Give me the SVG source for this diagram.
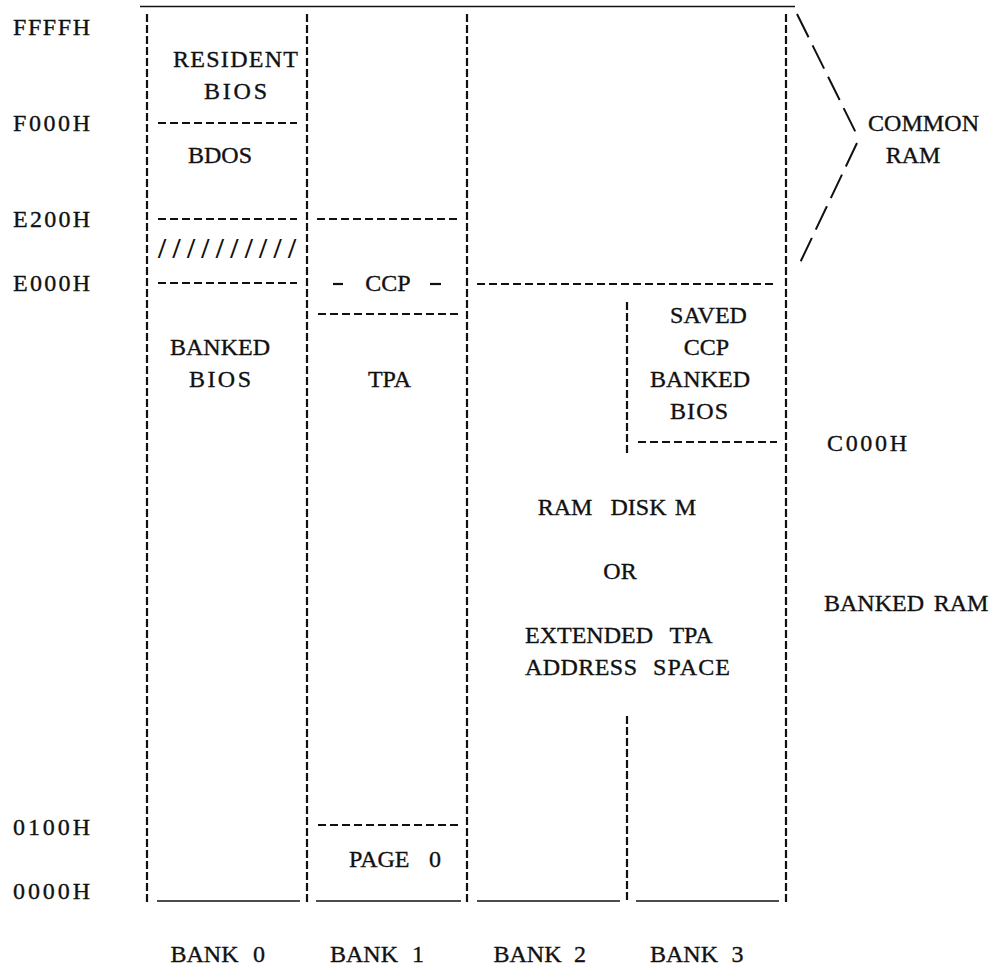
<svg xmlns="http://www.w3.org/2000/svg" width="995" height="967" viewBox="0 0 995 967">
<style>
.t{font-family:"Liberation Serif","Times New Roman",serif;font-size:24px;fill:#111;stroke:#111;stroke-width:0.35}
.m{text-anchor:middle}
.sl{font-family:"Liberation Serif","Times New Roman",serif;font-size:29px;font-weight:bold;fill:#111}
.v{stroke:#111;stroke-width:2.2;stroke-dasharray:8 3;fill:none}
.h{stroke:#111;stroke-width:2.2;stroke-dasharray:8 4;fill:none}
.s{stroke:#111;stroke-width:1.7;fill:none}
.d{stroke:#111;stroke-width:2;stroke-dasharray:26 9;fill:none}
</style>
<rect width="995" height="967" fill="#fff"/>
<g id="addresses">
<text class="t" x="13" y="35" textLength="77" lengthAdjust="spacing">FFFFH</text>
<text class="t" x="13" y="131" textLength="77" lengthAdjust="spacing">F000H</text>
<text class="t" x="13" y="227" textLength="77" lengthAdjust="spacing">E200H</text>
<text class="t" x="13" y="291" textLength="77" lengthAdjust="spacing">E000H</text>
<text class="t" x="13" y="835" textLength="77" lengthAdjust="spacing">0100H</text>
<text class="t" x="13" y="899" textLength="77" lengthAdjust="spacing">0000H</text>
<text class="t" x="827" y="451" textLength="80" lengthAdjust="spacing">C000H</text>
</g>
<g id="frame">
<line class="s" x1="140" y1="6.5" x2="795" y2="6.5"/>
<line class="v" x1="147" y1="14" x2="147" y2="903"/>
<line class="v" x1="307" y1="14" x2="307" y2="903"/>
<line class="v" x1="467" y1="14" x2="467" y2="903"/>
<line class="v" x1="786" y1="14" x2="786" y2="903"/>
<line class="v" x1="627" y1="302" x2="627" y2="455"/>
<line class="v" x1="627" y1="716" x2="627" y2="903"/>
<line class="s" x1="157" y1="901" x2="300" y2="901"/>
<line class="s" x1="316" y1="901" x2="461" y2="901"/>
<line class="s" x1="477" y1="901" x2="620" y2="901"/>
<line class="s" x1="636" y1="901" x2="779" y2="901"/>
</g>
<g id="bank0">
<text class="t" x="173" y="67" textLength="125" lengthAdjust="spacing">RESIDENT</text>
<text class="t" x="204" y="99" textLength="63" lengthAdjust="spacing">BIOS</text>
<line class="h" x1="158" y1="123" x2="297" y2="123"/>
<text class="t m" x="220" y="163">BDOS</text>
<line class="h" x1="158" y1="219" x2="297" y2="219"/>
<text class="sl" x="158" y="258" textLength="138" lengthAdjust="spacing">//////////</text>
<line class="h" x1="158" y1="283" x2="297" y2="283"/>
<text class="t m" x="220" y="355">BANKED</text>
<text class="t" x="189" y="387" textLength="62" lengthAdjust="spacing">BIOS</text>
</g>
<g id="bank1">
<line class="h" x1="317" y1="219" x2="458" y2="219"/>
<line class="s" x1="333" y1="284" x2="343" y2="284" style="stroke-width:2.2"/>
<text class="t m" x="388" y="291">CCP</text>
<line class="s" x1="430" y1="284" x2="441" y2="284" style="stroke-width:2.2"/>
<line class="h" x1="318" y1="314" x2="458" y2="314"/>
<text class="t m" x="389.5" y="387">TPA</text>
<line class="h" x1="318" y1="825" x2="458" y2="825"/>
<text class="t" x="349" y="867">PAGE</text>
<text class="t m" x="435" y="867">0</text>
</g>
<g id="bank2-3">
<line class="h" x1="477" y1="284" x2="777" y2="284"/>
<text class="t m" x="708.5" y="323">SAVED</text>
<text class="t m" x="706.5" y="355">CCP</text>
<text class="t m" x="700" y="387">BANKED</text>
<text class="t" x="670" y="419" textLength="58" lengthAdjust="spacing">BIOS</text>
<line class="h" x1="638" y1="442" x2="777" y2="442"/>
<text class="t m" x="565" y="515">RAM</text>
<text class="t m" x="638.5" y="515">DISK</text>
<text class="t m" x="685.5" y="515">M</text>
<text class="t m" x="620" y="579">OR</text>
<text class="t" x="525" y="643">EXTENDED</text>
<text class="t m" x="691" y="643">TPA</text>
<text class="t" x="525" y="675" textLength="112" lengthAdjust="spacing">ADDRESS</text>
<text class="t" x="653" y="675" textLength="77" lengthAdjust="spacing">SPACE</text>
</g>
<g id="connectors">
<line class="d" x1="797" y1="14" x2="857" y2="135"/>
<line class="d" x1="857" y1="143" x2="798" y2="267"/>
</g>
<g id="side-labels">
<text class="t" x="868" y="131" textLength="111" lengthAdjust="spacing">COMMON</text>
<text class="t m" x="913" y="163">RAM</text>
<text class="t m" x="874" y="611">BANKED</text>
<text class="t m" x="961" y="611">RAM</text>
</g>
<g id="bank-labels">
<text class="t m" x="204.5" y="962">BANK</text>
<text class="t m" x="259" y="962">0</text>
<text class="t m" x="364" y="962">BANK</text>
<text class="t m" x="418" y="962">1</text>
<text class="t m" x="527.5" y="962">BANK</text>
<text class="t m" x="580" y="962">2</text>
<text class="t m" x="684" y="962">BANK</text>
<text class="t m" x="737.5" y="962">3</text>
</g>
</svg>
